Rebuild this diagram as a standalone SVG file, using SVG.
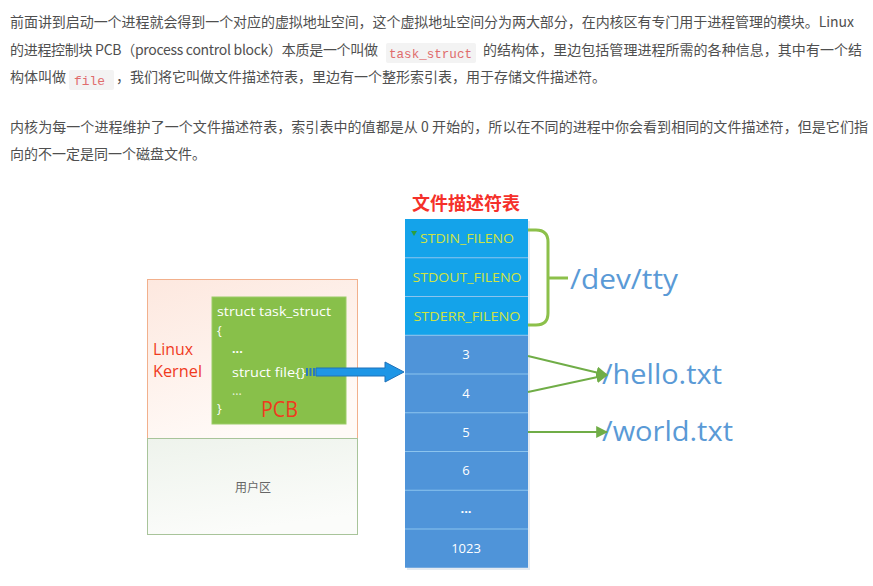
<svg xmlns="http://www.w3.org/2000/svg" width="873" height="586" viewBox="0 0 873 586">
<defs>
<style>
.p{font-family:"Noto Sans CJK SC","Noto Sans",sans-serif;font-size:14px;fill:#4f4f4f}
.code{font-family:"Liberation Mono","DejaVu Sans Mono",monospace;font-size:13px;fill:#e06c6c}
.cbg{fill:#f3f3f3}
.lbl{font-family:"Open Sans","Liberation Sans",sans-serif}
.pcbt{font-family:"Open Sans","Liberation Sans",sans-serif;font-size:12.5px;fill:#ffffff}
.red{fill:#f03a1e}
.top{fill:#14a3ea}
.low{fill:#4f94d9}
.div{stroke:#8cc4ee;stroke-width:1}
.tt{font-family:"Open Sans","Liberation Sans",sans-serif;font-size:12.5px;fill:#cfe33f;text-anchor:middle}
.nt{font-family:"Open Sans","Liberation Sans",sans-serif;font-size:13px;fill:#ffffff;text-anchor:middle}
.file{font-family:"Open Sans","Liberation Sans",sans-serif;font-size:27px;fill:#5a9ad6}
.ga{stroke:#70ad47;stroke-width:1.8;fill:none}
</style>
<linearGradient id="kg" x1="0" y1="0" x2="0.4" y2="1">
<stop offset="0" stop-color="#fde8df"/>
<stop offset="1" stop-color="#fffaf7"/>
</linearGradient>
<linearGradient id="ug" x1="0" y1="0" x2="0.3" y2="1">
<stop offset="0" stop-color="#eef3ec"/>
<stop offset="1" stop-color="#fbfcfa"/>
</linearGradient>
<marker id="ah" viewBox="0 0 10 10" refX="9" refY="5" markerWidth="7" markerHeight="7" markerUnits="userSpaceOnUse" orient="auto">
<path d="M0,0 L10,5 L0,10 Z" fill="#70ad47"/>
</marker>
<marker id="ah2" viewBox="0 0 10 10" refX="9" refY="5" markerWidth="12" markerHeight="12" markerUnits="userSpaceOnUse" orient="auto">
<path d="M0,0 L10,5 L0,10 Z" fill="#70ad47"/>
</marker>
</defs>
<rect width="873" height="586" fill="#ffffff"/>

<g id="paragraphs">
<text class="p" x="10" y="27" textLength="844" lengthAdjust="spacing">前面讲到启动一个进程就会得到一个对应的虚拟地址空间，这个虚拟地址空间分为两大部分，在内核区有专门用于进程管理的模块。Linux</text>
<text class="p" x="10" y="55" textLength="368" lengthAdjust="spacing">的进程控制块 PCB（process control block）本质是一个叫做</text>
<rect class="cbg" x="386" y="43" width="90" height="20" rx="2"/>
<text class="code" x="389" y="58" textLength="83" lengthAdjust="spacingAndGlyphs">task_struct</text>
<text class="p" x="483" y="55" textLength="379" lengthAdjust="spacing">的结构体，里边包括管理进程所需的各种信息，其中有一个结</text>
<text class="p" x="10" y="82">构体叫做</text>
<rect class="cbg" x="69" y="70" width="45" height="20" rx="2"/>
<text class="code" x="74" y="85" textLength="31" lengthAdjust="spacingAndGlyphs">file</text>
<text class="p" x="116" y="82">，我们将它叫做文件描述符表，里边有一个整形索引表，用于存储文件描述符。</text>
<text class="p" x="10" y="132" textLength="858" lengthAdjust="spacing">内核为每一个进程维护了一个文件描述符表，索引表中的值都是从 0 开始的，所以在不同的进程中你会看到相同的文件描述符，但是它们指</text>
<text class="p" x="10" y="159">向的不一定是同一个磁盘文件。</text>
</g>

<g id="kernel">
<rect x="147.5" y="279.5" width="210" height="159" fill="url(#kg)" stroke="#f2b08c" stroke-width="1"/>
<text class="lbl red" x="153" y="355" font-size="16" textLength="40" lengthAdjust="spacingAndGlyphs">Linux</text>
<text class="lbl red" x="153" y="377" font-size="16" textLength="49" lengthAdjust="spacingAndGlyphs">Kernel</text>
</g>

<g id="userspace">
<rect x="147.5" y="438.5" width="210" height="96" fill="url(#ug)" stroke="#a8c49a" stroke-width="1"/>
<text x="253" y="492" font-family="Noto Sans CJK SC,sans-serif" font-size="12" fill="#666666" text-anchor="middle">用户区</text>
</g>

<g id="pcb">
<rect x="212" y="297" width="134" height="127" fill="#88c04a" stroke="#9ccc68" stroke-width="1"/>
<text class="pcbt" x="217" y="316" textLength="114" lengthAdjust="spacingAndGlyphs">struct task_struct</text>
<text class="pcbt" x="217" y="335">{</text>
<text class="pcbt" x="232" y="353" font-weight="bold">...</text>
<text class="pcbt" x="232" y="377" textLength="74" lengthAdjust="spacingAndGlyphs">struct file{}</text>
<text class="pcbt" x="232" y="395" fill-opacity="0.8">...</text>
<text class="pcbt" x="217" y="413">}</text>
<text class="lbl red" x="261" y="417" font-size="22" textLength="37" lengthAdjust="spacingAndGlyphs">PCB</text>
</g>

<g id="fd-table">
<text x="466" y="210" font-family="Noto Sans CJK SC,sans-serif" font-size="18" font-weight="bold" fill="#f5302a" text-anchor="middle">文件描述符表</text>
<rect x="407" y="221" width="123" height="349" fill="#c9d6e3" opacity="0.5"/>
<rect class="top" x="405" y="219" width="123" height="116.25"/>
<rect class="low" x="405" y="335.25" width="123" height="232.5"/>
<line class="div" x1="405" y1="257.75" x2="528" y2="257.75"/>
<line class="div" x1="405" y1="296.5" x2="528" y2="296.5"/>
<line class="div" x1="405" y1="335.25" x2="528" y2="335.25"/>
<line class="div" x1="405" y1="374" x2="528" y2="374"/>
<line class="div" x1="405" y1="412.75" x2="528" y2="412.75"/>
<line class="div" x1="405" y1="451.5" x2="528" y2="451.5"/>
<line class="div" x1="405" y1="490.25" x2="528" y2="490.25"/>
<line class="div" x1="405" y1="529" x2="528" y2="529"/>
<polygon points="411,231 417,231 414,236" fill="#2e9e3e"/>
<text class="tt" x="467" y="243" textLength="94" lengthAdjust="spacingAndGlyphs">STDIN_FILENO</text>
<text class="tt" x="467" y="282" textLength="109" lengthAdjust="spacingAndGlyphs">STDOUT_FILENO</text>
<text class="tt" x="467" y="321" textLength="107" lengthAdjust="spacingAndGlyphs">STDERR_FILENO</text>
<text class="nt" x="466" y="359">3</text>
<text class="nt" x="466" y="398">4</text>
<text class="nt" x="466" y="437">5</text>
<text class="nt" x="466" y="475">6</text>
<text class="nt" x="466" y="513" font-weight="bold">...</text>
<text class="nt" x="466" y="553">1023</text>
</g>

<g id="dev-tty">
<text class="file" x="570" y="289" textLength="108" lengthAdjust="spacingAndGlyphs">/dev/tty</text>
</g>
<g id="hello">
<text class="file" x="602" y="384" textLength="120" lengthAdjust="spacingAndGlyphs">/hello.txt</text>
</g>
<g id="world">
<text class="file" x="602" y="441" textLength="131" lengthAdjust="spacingAndGlyphs">/world.txt</text>
</g>

<g id="connectors">
<path d="M306,368 h2 v8 h-2 Z M309.5,368 h2 v8 h-2 Z M313,368 h2 v8 h-2 Z" fill="#2a78c2"/>
<path d="M316,368 H385 V362 L404,372 L385,382 V376 H316 Z" fill="#1e96e6" stroke="#1f70b8" stroke-width="1"/>
<path d="M528,230 H536 Q548,230 548,242 V313 Q548,325 536,325 H528" fill="none" stroke="#8cc04a" stroke-width="3"/>
<line x1="548" y1="278" x2="568" y2="278" stroke="#8cc04a" stroke-width="3"/>
<line class="ga" x1="528" y1="356" x2="607" y2="375" marker-end="url(#ah2)"/>
<line class="ga" x1="528" y1="392" x2="607" y2="375" marker-end="url(#ah2)"/>
<line class="ga" x1="528" y1="432" x2="607" y2="432" marker-end="url(#ah2)"/>
</g>
</svg>
